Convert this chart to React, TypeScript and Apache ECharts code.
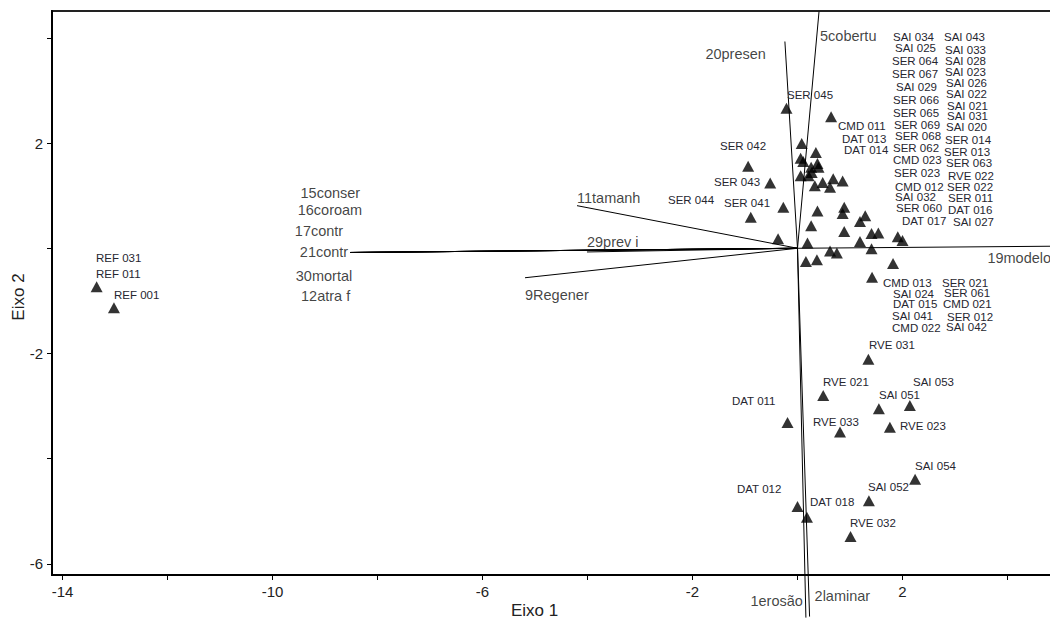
import React, { useEffect, useRef } from "react";
import * as echarts from "echarts";

// ---- axis ticks ----
const X_TICKS = [-14, -12, -10, -8, -6, -4, -2, 0, 2, 4];
const X_LABELS = [-14, -10, -6, -2, 2];
const Y_TICKS = [-6, -4, -2, 0, 2, 4];
const Y_LABELS = [-6, -2, 2];

// ---- sample scores (triangles) ----
const sampleX = [
  -13.35, -13.02, -0.21, 0.64, 0.08, 0.35, -0.94, 0.06, 0.11, 0.26, 0.38, 0.4, 0.06, 0.21, 0.27,
  0.33, 0.48, 0.62, 0.68, 0.86, -0.52, -0.27, -0.89, 0.38, 0.89, 0.86, 1.29, 1.19, 0.26, 0.89,
  1.41, 1.54, 1.91, 2.0, -0.37, 0.19, 1.19, 1.41, 0.62, 0.75, 0.16, 0.37, 1.82, 1.42,
  1.35, 0.49, 2.14, 1.55, -0.19, 0.81, 1.76, 2.24, 1.36, 0.0, 0.18, 1.01,
];
const sampleY = [
  -0.73, -1.13, 2.66, 2.5, 1.99, 1.82, 1.56, 1.71, 1.65, 1.54, 1.61, 1.54, 1.38, 1.38, 1.44,
  1.19, 1.25, 1.16, 1.32, 1.28, 1.24, 0.78, 0.59, 0.71, 0.78, 0.66, 0.62, 0.51, 0.43, 0.32,
  0.28, 0.29, 0.22, 0.15, 0.18, 0.1, 0.13, -0.01, -0.05, -0.09, -0.25, -0.22, -0.29, -0.55,
  -2.11, -2.8, -2.99, -3.05, -3.31, -3.49, -3.4, -4.39, -4.8, -4.91, -5.11, -5.48,
];

// ---- variable vectors ----
const vectorNames = [
  "5cobertu", "20presen", "11tamanh", "29prev i", "15conser", "16coroam", "17contr",
  "21contr", "30mortal", "12atra f", "9Regener", "19modelo", "1erosão", "2laminar",
];
const vectorX = [0.41, -0.24, -4.2, -4.01, -8.52, -8.52, -8.52, -8.52, -8.52, -8.52, -5.19, 4.95, 0.16, 0.23];
const vectorY = [4.5, 3.93, 0.81, -0.07, -0.08, -0.08, -0.08, -0.08, -0.08, -0.08, -0.56, 0.04, -7.02, -7.0];

// ---- label styling (placement of vector names relative to their tips) ----
const vectorLabelStyle: Record<string, { align: string; offset: number[] }> = {
  "5cobertu": { align: "left", offset: [1, 24] },
  "20presen": { align: "right", offset: [-19, 12] },
  "11tamanh": { align: "left", offset: [0, -8] },
  "29prev i": { align: "left", offset: [0, -10] },
  "15conser": { align: "right", offset: [10, -59] },
  "16coroam": { align: "right", offset: [12, -42] },
  "17contr": { align: "right", offset: [-7, -21] },
  "21contr": { align: "right", offset: [-2, 0] },
  "30mortal": { align: "right", offset: [2, 24] },
  "12atra f": { align: "right", offset: [0, 44] },
  "9Regener": { align: "left", offset: [0, 17] },
  "19modelo": { align: "left", offset: [-70, 12] },
  "1erosão": { align: "right", offset: [-3, -17] },
  "2laminar": { align: "left", offset: [5, -21] },
};

// ---- sample label layout (text, left px, middle px) ----
const sampleLabels: [string, number, number][] = [
  ["REF 031", 96, 258], ["REF 011", 96, 274], ["REF 001", 114, 295],
  ["SER 045", 787, 95], ["SER 042", 720, 146], ["SER 043", 714, 182],
  ["SER 044", 668, 200], ["SER 041", 724, 203],
  ["CMD 011", 838, 126], ["DAT 013", 842, 139], ["DAT 014", 844, 150],
  ["RVE 031", 869, 345], ["RVE 021", 823, 382], ["SAI 053", 913, 382],
  ["SAI 051", 879, 395], ["DAT 011", 732, 401], ["RVE 033", 813, 422],
  ["RVE 023", 900, 426], ["SAI 054", 915, 466], ["SAI 052", 868, 487],
  ["DAT 012", 737, 489], ["DAT 018", 810, 502], ["RVE 032", 850, 523],
  ["SAI 034", 893, 37], ["SAI 025", 895, 48], ["SER 064", 892, 61], ["SER 067", 892, 74],
  ["SAI 029", 896, 87], ["SER 066", 893, 100], ["SER 065", 893, 113], ["SER 069", 894, 125],
  ["SER 068", 895, 136], ["SER 062", 893, 148], ["CMD 023", 893, 160], ["SER 023", 894, 173],
  ["CMD 012", 895, 187], ["SAI 032", 895, 197], ["SER 060", 896, 208], ["DAT 017", 902, 221],
  ["SAI 043", 944, 37], ["SAI 033", 945, 50], ["SAI 028", 945, 61], ["SAI 023", 945, 72],
  ["SAI 026", 946, 83], ["SAI 022", 946, 94], ["SAI 021", 947, 106], ["SAI 031", 947, 116],
  ["SAI 020", 946, 127], ["SER 014", 945, 140], ["SER 013", 944, 152], ["SER 063", 946, 163],
  ["RVE 022", 948, 176], ["SER 022", 947, 187], ["SER 011", 948, 198], ["DAT 016", 948, 210],
  ["SAI 027", 953, 222],
  ["CMD 013", 883, 283], ["SAI 024", 893, 294], ["DAT 015", 893, 304], ["SAI 041", 892, 316],
  ["CMD 022", 892, 328], ["SER 021", 942, 283], ["SER 061", 944, 293], ["CMD 021", 943, 304],
  ["SER 012", 947, 317], ["SAI 042", 946, 327],
];

const FONT = "'Liberation Sans', Arial, Helvetica, sans-serif";

export default function App() {
  const ref = useRef<HTMLDivElement>(null);

  useEffect(() => {
    if (!ref.current) return;
    const chart = echarts.init(ref.current, null, { renderer: "svg" });

    const vectorSeries = vectorNames.map((n, i) => ({
      type: "line",
      name: n,
      data: [
        [0, 0],
        [vectorX[i], vectorY[i]],
      ],
      symbol: "none",
      clip: false,
      silent: true,
      z: 2,
      lineStyle: { color: "#000", width: 1 },
    }));

    const vectorLabelData = vectorNames.map((n, i) => ({
      name: n,
      value: [vectorX[i], vectorY[i]],
      label: {
        align: vectorLabelStyle[n].align,
        offset: vectorLabelStyle[n].offset,
      },
    }));

    const samples = sampleX.map((x, i) => [x, sampleY[i]]);

    const graphics: any[] = sampleLabels.map(([t, x, y]) => ({
      type: "text",
      x,
      y,
      silent: true,
      z: 10,
      style: {
        text: t,
        fill: "#262630",
        fontSize: 11.5,
        fontFamily: FONT,
        align: "left",
        verticalAlign: "middle",
      },
    }));
    graphics.push({
      type: "text",
      x: 511,
      y: 610,
      style: {
        text: "Eixo 1",
        fill: "#222",
        fontSize: 17,
        fontFamily: FONT,
        align: "left",
        verticalAlign: "middle",
      },
    });
    graphics.push({
      type: "text",
      x: 18,
      y: 297,
      rotation: Math.PI / 2,
      style: {
        text: "Eixo 2",
        fill: "#222",
        fontSize: 17,
        fontFamily: FONT,
        align: "center",
        verticalAlign: "middle",
      },
    });

    const option: any = {
      animation: false,
      grid: {
        left: 52,
        top: 11,
        right: 2,
        bottom: 43,
        show: true,
        borderColor: "#222",
        borderWidth: 2,
        backgroundColor: "transparent",
      },
      xAxis: {
        type: "value",
        min: -14.2,
        max: 5,
        axisLine: { show: true, onZero: false, lineStyle: { color: "#000", width: 2 } },
        axisTick: {
          show: true,
          customValues: X_TICKS,
          length: 5,
          inside: false,
          lineStyle: { color: "#000", width: 1 },
        },
        axisLabel: {
          customValues: X_LABELS,
          margin: 9,
          fontSize: 15,
          color: "#222",
          fontFamily: FONT,
        },
        splitLine: { show: false },
      },
      yAxis: {
        type: "value",
        min: -6.21,
        max: 4.51,
        axisLine: { show: true, onZero: false, lineStyle: { color: "#000", width: 2 } },
        axisTick: {
          show: true,
          customValues: Y_TICKS,
          length: 5,
          inside: false,
          lineStyle: { color: "#000", width: 1 },
        },
        axisLabel: {
          customValues: Y_LABELS,
          margin: 9,
          fontSize: 15,
          color: "#222",
          fontFamily: FONT,
        },
        splitLine: { show: false },
      },
      series: [
        ...vectorSeries,
        {
          type: "scatter",
          name: "samples",
          data: samples,
          symbol: "triangle",
          symbolSize: [12, 11],
          itemStyle: { color: "#000" },
          z: 5,
          silent: true,
        },
        {
          type: "scatter",
          name: "vectorLabels",
          data: vectorLabelData,
          symbolSize: 1,
          clip: false,
          itemStyle: { color: "rgba(0,0,0,0)" },
          z: 6,
          silent: true,
          label: {
            show: true,
            position: "inside",
            formatter: "{b}",
            verticalAlign: "middle",
            fontSize: 14.5,
            fontFamily: FONT,
            color: "#111",
          },
        },
      ],
      graphic: graphics,
    };

    chart.setOption(option);
    return () => chart.dispose();
  }, []);

  return (
    <div
      style={{
        position: "absolute",
        left: 0,
        top: 0,
        width: 1050,
        height: 618,
        overflow: "hidden",
        background: "#fff",
      }}
    >
      <div ref={ref} style={{ position: "absolute", left: 0, top: 0, width: 1062, height: 618 }} />
    </div>
  );
}
